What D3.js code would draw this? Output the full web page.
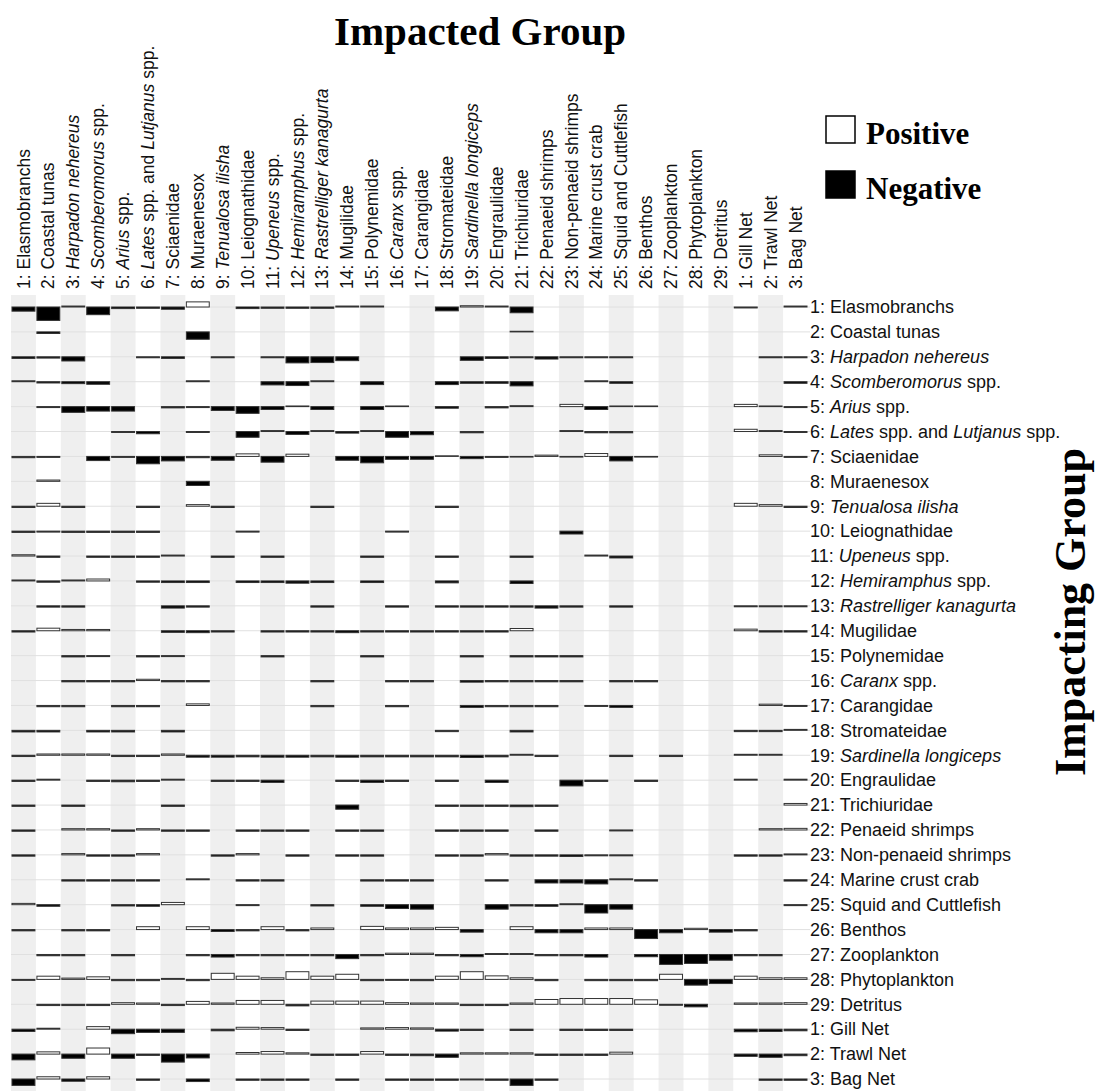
<!DOCTYPE html>
<html>
<head>
<meta charset="utf-8">
<script src="https://cdn.jsdelivr.net/npm/d3@7"></script>
<style>
  body { margin: 0; background: #fff; }
  svg { display: block; }
</style>
</head>
<body>
<svg id="chart" width="1097" height="1091"></svg>
<script>
// Functional groups of the Ecopath model (text between underscores is set in italics)
const groupLabels = [
  "1: Elasmobranchs", "2: Coastal tunas", "3: _Harpadon nehereus_", "4: _Scomberomorus_ spp.",
  "5: _Arius_ spp.", "6: _Lates_ spp. and _Lutjanus_ spp.", "7: Sciaenidae", "8: Muraenesox",
  "9: _Tenualosa ilisha_", "10: Leiognathidae", "11: _Upeneus_ spp.", "12: _Hemiramphus_ spp.",
  "13: _Rastrelliger kanagurta_", "14: Mugilidae", "15: Polynemidae", "16: _Caranx_ spp.",
  "17: Carangidae", "18: Stromateidae", "19: _Sardinella longiceps_", "20: Engraulidae",
  "21: Trichiuridae", "22: Penaeid shrimps", "23: Non-penaeid shrimps", "24: Marine crust crab",
  "25: Squid and Cuttlefish", "26: Benthos", "27: Zooplankton", "28: Phytoplankton", "29: Detritus"
];
const fleetLabels = ["1: Gill Net", "2: Trawl Net", "3: Bag Net"];

// Mixed trophic impact of each impacting group (row) on each impacted group (column)
const mtiGroups = [
  [-0.13,-0.42,0.03,-0.24,-0.05,-0.04,-0.07,0.16,0,-0.05,-0.04,-0.04,-0.04,0.03,0.03,0,0,-0.12,0.04,0.03,-0.18,0,0,0,0,0,0,0,0,-0.03,0,0.03],
  [0,-0.05,0,0,0,0,0,-0.23,0,0,0,0,0,0,0,0,0,0,0,0,0.02,0,0,0,0,0,0,0,0,0,0,0],
  [-0.05,-0.04,-0.13,0,0,-0.03,-0.05,0,-0.03,0,-0.03,-0.19,-0.18,-0.12,0,0,0,0,-0.11,-0.05,-0.03,-0.07,-0.03,-0.03,-0.03,0,0,0,0,0,-0.03,-0.03],
  [0.03,-0.04,-0.06,-0.08,0,0,0,0.03,0,0,-0.1,-0.12,0.03,0,-0.09,0,0,-0.09,-0.05,-0.05,-0.13,0,0,0.03,-0.05,0,0,0,0,0,0,-0.05],
  [0,-0.03,-0.18,-0.14,-0.14,0,-0.04,-0.03,-0.12,-0.21,-0.09,0.02,-0.09,0,-0.09,0.02,0,-0.05,0,-0.04,0.03,0,0.07,-0.09,0.02,0.02,0,0,0,0.07,0.02,-0.03],
  [0,0,0,0,-0.03,-0.07,0,-0.03,0,-0.18,0.03,-0.09,0.03,-0.05,0.03,-0.18,-0.1,0,-0.04,0,0,0,0.03,-0.04,-0.04,0,0,0,0,0.07,0.03,-0.03],
  [-0.04,-0.03,0,-0.13,-0.03,-0.23,-0.14,-0.04,-0.12,0.08,-0.18,0.07,0,-0.12,-0.2,-0.09,-0.09,0.02,-0.07,-0.03,-0.02,0.04,-0.02,0.09,-0.14,-0.02,0,0,0,0,0.05,-0.03],
  [0,0.04,0,0,0,0,0,-0.13,0,0,0,0,0,0,0,0,0,0,0,0,0,0,0,0,0,0,0,0,0,0,0,0],
  [-0.04,0.09,-0.04,0,0,-0.04,0,0.05,-0.04,0,0,0,-0.04,0,0,0,0,-0.04,0,0,0,0,0,0,0,0,0,0,0,0.09,0.05,-0.04],
  [-0.04,-0.03,-0.04,-0.04,-0.04,-0.04,0,0,0,-0.03,0,0,0,0,0,-0.03,0,0,0,0,0,0,-0.09,0,0,0,0,0,0,0,0,0],
  [0.04,-0.04,0,-0.04,-0.04,-0.04,0.03,0,-0.04,0,-0.04,0,0,0,-0.04,0,0,-0.04,0,0,-0.04,0,0,0.03,-0.06,0,0,0,0,0,0,0],
  [0.03,-0.04,0.03,0.06,0,-0.04,-0.05,-0.05,0,-0.05,-0.05,-0.07,-0.05,0,-0.05,0,0,-0.06,0,0,-0.08,0,0,0,0,0,0,0,0,0,0,0],
  [0,-0.04,-0.04,0,0,0,-0.07,-0.04,0,0,0,0,-0.04,0,0,-0.04,0,-0.04,-0.04,-0.04,-0.04,-0.07,-0.04,0,-0.04,0,0,0,0,-0.03,-0.03,-0.03],
  [-0.04,0.08,0.04,0.04,0,0,-0.05,-0.06,-0.04,0,-0.04,-0.04,-0.04,-0.06,-0.04,-0.04,-0.04,-0.04,-0.04,-0.04,0.07,0,0,0,0,0,0,0,0,0.05,-0.04,-0.04],
  [0,0,-0.04,-0.03,0,-0.04,-0.03,0,0,0,-0.04,0,0,0,-0.04,0,0,0,-0.04,0,-0.04,-0.04,-0.04,0,0,0,0,0,0,0,0,0],
  [0,0,-0.04,-0.04,-0.04,0.04,-0.04,-0.04,0,0,0,0,-0.04,0,0,-0.04,-0.04,0,-0.05,-0.04,-0.04,-0.04,-0.04,0,-0.04,-0.04,0,0,0,0,0,0],
  [0,-0.04,-0.04,0,-0.04,-0.04,0,0.05,0,0,0,0,-0.04,0,0,-0.04,0,0,-0.06,-0.04,-0.04,-0.04,0,-0.03,-0.06,0,0,0,0,0,0.04,-0.03],
  [-0.05,-0.05,0,-0.05,-0.05,0,-0.05,0,0,0,0,0,0,0,0,0,0,-0.04,0,0,-0.05,0,0,0,0,0,0,0,0,-0.04,-0.04,0.03],
  [-0.04,0.04,0.04,0.04,-0.04,-0.04,0.04,-0.06,-0.06,-0.05,-0.06,-0.06,-0.05,-0.06,-0.05,-0.05,-0.05,-0.05,-0.07,-0.05,0.03,-0.04,0,0,-0.04,0,-0.04,0,0,0.03,0.03,0],
  [-0.04,0.03,0,-0.04,-0.05,-0.04,0.03,0,-0.04,-0.04,-0.07,0,0,-0.04,-0.07,-0.04,0,-0.04,0,-0.07,0,0,-0.18,-0.04,0,-0.04,0,0,0,0.03,0,0.03],
  [-0.04,0,-0.04,0,0,0,-0.04,0,0,0,0,0,0,-0.13,0,0,0,-0.04,-0.04,-0.04,-0.05,-0.04,0,0,0,0,0,0,0,0,0,0.05],
  [-0.04,0,0.04,0.04,-0.04,0.04,-0.04,-0.04,0,-0.04,-0.04,-0.04,0,-0.04,-0.04,0,0,-0.04,-0.04,-0.04,0,-0.04,0,0,-0.03,0,0,0,0,0,0.04,0.05],
  [-0.04,0,0.04,-0.04,-0.04,0.04,0,0,-0.04,0.04,0,-0.04,0,-0.04,-0.04,0,0,-0.04,-0.04,0.04,-0.04,-0.04,-0.05,-0.03,-0.03,0,0,0,0,-0.04,-0.04,0.03],
  [0,0,-0.04,-0.04,-0.04,-0.04,0,0.03,0,-0.04,-0.04,0,0,0,-0.04,-0.04,-0.04,0,0,-0.04,0,-0.1,-0.1,-0.13,0.03,-0.04,0,0,0,0,0,-0.04],
  [0.04,-0.05,0,0,-0.04,-0.05,0.07,0,0,-0.03,0,0,-0.04,0,-0.05,-0.12,-0.14,0,0,-0.14,-0.04,-0.05,0.03,-0.26,-0.14,0,0,0,0,0,0,-0.03],
  [-0.04,0,-0.04,-0.04,0,0.09,0,0.09,-0.06,-0.04,0.09,-0.04,0.05,0,0.1,0.05,0.05,0.07,-0.08,0,0.09,-0.1,-0.1,0.05,0.05,-0.28,-0.1,0.04,-0.08,-0.04,0,0],
  [0,-0.04,-0.04,0,-0.04,0,0,-0.04,-0.08,-0.04,-0.04,-0.04,-0.04,-0.13,-0.04,0.04,0.04,-0.04,-0.07,0.03,0.03,-0.04,-0.04,-0.08,0,-0.07,-0.31,-0.28,-0.18,-0.04,-0.04,0],
  [-0.03,0.1,0.04,0.08,-0.04,-0.04,0.03,-0.04,0.19,0.1,0.05,0.24,0.1,0.16,-0.04,-0.03,-0.04,0.1,0.24,0.11,0.05,-0.04,0,-0.04,-0.04,-0.04,0.16,-0.18,-0.13,0.1,0.05,0.05],
  [0,-0.04,-0.04,-0.04,0.05,0.04,-0.04,0.09,0.04,0.12,0.12,-0.05,0.1,0.1,0.1,0.05,0.04,0.04,-0.04,-0.04,0.04,0.15,0.18,0.18,0.18,0.14,-0.03,-0.08,0,0.04,0.04,0.05]
];
const mtiFleets = [
  [-0.07,0.03,0,0.08,-0.14,-0.1,-0.1,0,-0.05,0.06,0.05,-0.04,0,0,0.04,0.05,0.04,-0.06,-0.04,0,-0.04,0,-0.04,-0.04,-0.04,0,0,0,0,-0.08,-0.07,-0.05],
  [-0.18,0.07,-0.13,0.19,-0.13,-0.04,-0.25,-0.12,0,0.05,0.08,0.04,-0.04,-0.04,0.08,-0.04,-0.05,-0.1,0.04,0.04,0.04,-0.04,-0.04,-0.04,0.06,0,0,0,0,-0.07,-0.1,-0.05],
  [-0.2,0.07,-0.07,0.07,0,-0.04,0,-0.08,0,-0.04,-0.04,-0.04,0,-0.04,0,-0.04,-0.04,-0.04,-0.03,-0.04,-0.2,-0.04,0,0,0,0,0,0,0,0,-0.04,-0.04]
];
const legendItems = [
  { label: "Positive", sign: 1 },
  { label: "Negative", sign: -1 }
];

const labels = groupLabels.concat(fleetLabels);
const matrix = mtiGroups.concat(mtiFleets);
const ids = d3.range(labels.length);

const svg = d3.select("#chart");
const sansFont = "'Liberation Sans', Arial, sans-serif";
const serifFont = "'Liberation Serif', 'Times New Roman', serif";

const gridTop = 295, gridBottom = 1091;
const x = d3.scaleBand().domain(ids).range([11, 808]);
const y = d3.scalePoint().domain(ids).range([307, 1079]);
const h = d3.scaleLinear().domain([0, 0.5]).range([0, 16]);

// Writes a label, putting the underscore-delimited parts in italics
function richText(sel, str) {
  str.split("_").forEach((part, i) => {
    if (!part) return;
    sel.append("tspan").text(part).attr("font-style", i % 2 ? "italic" : "normal");
  });
}

// Alternate column shading
svg.append("g").selectAll("rect")
  .data(ids.filter(i => i % 2 === 0))
  .join("rect")
  .attr("x", d => x(d))
  .attr("y", gridTop)
  .attr("width", x.bandwidth())
  .attr("height", gridBottom - gridTop)
  .attr("fill", "#efefef");

// Baseline of each impacting group
svg.append("g").selectAll("line")
  .data(ids)
  .join("line")
  .attr("x1", 11).attr("x2", 810)
  .attr("y1", d => y(d)).attr("y2", d => y(d))
  .attr("stroke", "#e0e0e0")
  .attr("stroke-width", 1);

// Impact bars: white above the baseline for positive, black below for negative
const cells = [];
matrix.forEach((row, r) => row.forEach((v, c) => { if (v !== 0) cells.push({ r, c, v }); }));

svg.append("g").selectAll("rect")
  .data(cells)
  .join("rect")
  .attr("x", d => x(d.c) + 1)
  .attr("width", x.bandwidth() - 2)
  .attr("y", d => d.v > 0 ? y(d.r) - h(Math.abs(d.v)) : y(d.r))
  .attr("height", d => h(Math.abs(d.v)))
  .attr("fill", d => d.v > 0 ? "#fff" : "#000")
  .attr("stroke", "#333")
  .attr("stroke-width", 1);

// Impacted group labels (top, vertical)
svg.append("g").selectAll("text")
  .data(ids)
  .join("text")
  .attr("transform", d => `translate(${x(d) + x.bandwidth() / 2},289) rotate(-90)`)
  .attr("dy", "0.35em")
  .attr("font-family", sansFont)
  .attr("font-size", 17.5)
  .attr("fill", "#111")
  .each(function (d) { richText(d3.select(this), labels[d]); });

// Impacting group labels (right)
svg.append("g").selectAll("text")
  .data(ids)
  .join("text")
  .attr("x", 810)
  .attr("y", d => y(d))
  .attr("dy", "0.35em")
  .attr("font-family", sansFont)
  .attr("font-size", 18)
  .attr("fill", "#111")
  .each(function (d) { richText(d3.select(this), labels[d]); });

// Axis titles
svg.append("text")
  .attr("x", 480).attr("y", 45)
  .attr("text-anchor", "middle")
  .attr("font-family", serifFont)
  .attr("font-weight", "bold")
  .attr("font-size", 41)
  .text("Impacted Group");

svg.append("text")
  .attr("transform", "translate(1085,612) rotate(-90)")
  .attr("text-anchor", "middle")
  .attr("font-family", serifFont)
  .attr("font-weight", "bold")
  .attr("font-size", 44)
  .text("Impacting Group");

// Legend
const legend = svg.append("g").selectAll("g")
  .data(legendItems)
  .join("g")
  .attr("transform", (d, i) => `translate(826,${116 + i * 55})`);

legend.append("rect")
  .attr("width", 29).attr("height", 27)
  .attr("fill", d => d.sign > 0 ? "#fff" : "#000")
  .attr("stroke", "#000")
  .attr("stroke-width", 1.5);

legend.append("text")
  .attr("x", 40).attr("y", 28)
  .attr("font-family", serifFont)
  .attr("font-weight", "bold")
  .attr("font-size", 31)
  .text(d => d.label);
</script>
</body>
</html>
